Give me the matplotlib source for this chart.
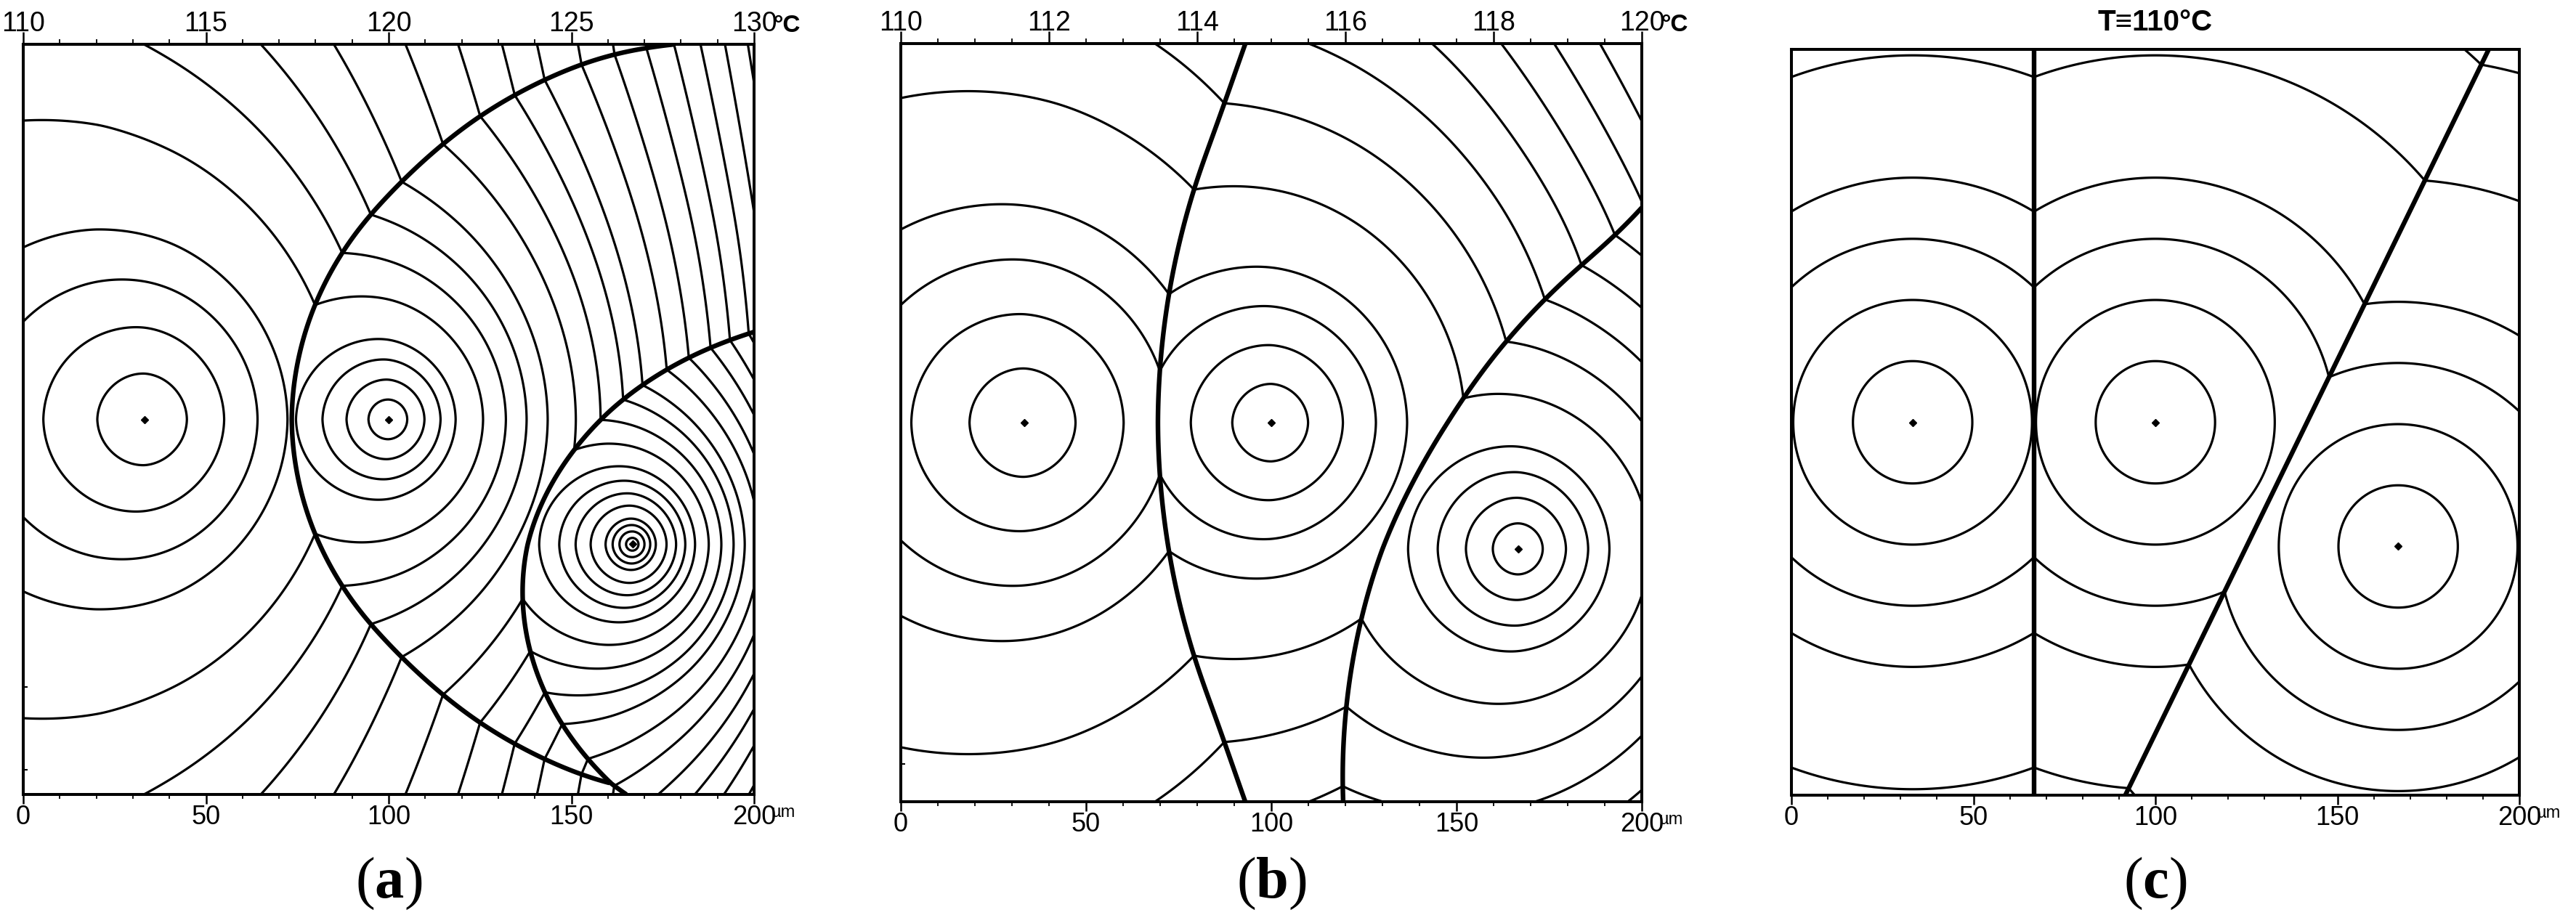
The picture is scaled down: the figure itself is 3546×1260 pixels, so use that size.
import numpy as np
import matplotlib
matplotlib.use("Agg")
import matplotlib.pyplot as plt
from matplotlib.ticker import MultipleLocator, FixedLocator

# ---------------- data ----------------
panel_letters = ["a", "b", "c"]
temp_left = [110.0, 110.0, 110.0]      # temperature at x = 0 µm
temp_right = [130.0, 120.0, 110.0]     # temperature at x = 200 µm
temp_major = [[110, 115, 120, 125, 130], [110, 112, 114, 116, 118, 120], []]
temp_minor_step = [1.0, 0.5, None]
nuclei_x = [33.3, 100.0, 166.7]        # µm
nuclei_y = [100.0, 100.0, 66.7]        # µm
# growth rate of spherulite radius (µm per time unit) vs temperature
growth_T = [110, 112, 114, 116, 118, 120, 122, 124, 126, 128, 130]
growth_G = [16.4, 13.91, 11.42, 9.14, 7.07, 5.29, 3.92, 2.74, 1.94, 1.33, 0.86]
# isochrone times (time units) shown in panels (b) and (c)
iso_levels = [1, 2, 3, 4, 6, 8, 10, 12, 14, 16, 18, 20, 22, 24, 26, 28, 30]
# panel (a): first isochrones, then later ones located by where they cross the top edge (µm)
iso_levels_a_early = [1, 2, 3, 4, 6]
iso_top_cross_a = [33.0, 65.0, 85.0, 104.6, 119.0, 131.0, 140.6, 151.8, 161.4, 170.4]
x_major = [0, 50, 100, 150, 200]
x_minor_step = 10
left_marks = [[28.6, 6.5], [10.0], []]
title_c = "T\u2261110\u00b0C"

# ---------------- computation of isochrones ----------------
L = 200.0
h = 0.5
n = int(round(L / h)) + 1
xs = np.linspace(0.0, L, n)
XX, YY = np.meshgrid(xs, xs)


def growth_at(T):
    return np.exp(np.interp(T, growth_T, np.log(growth_G)))


def godunov(a, b, fc):
    with np.errstate(invalid="ignore"):
        m = np.minimum(a, b)
        diff = np.abs(a - b)
        disc = np.maximum(2.0 * fc * fc - diff * diff, 0.0)
        t2 = 0.5 * (a + b + np.sqrt(disc))
        res = np.where(diff >= fc, m + fc, t2)
        res = np.where(np.isinf(m), np.inf, res)
    return res


def arrival_times(speed_x_list, src_list):
    F = len(src_list)
    slow = np.array([1.0 / s for s in speed_x_list])          # (F, n)
    S = np.concatenate([np.zeros((F, 1)),
                        np.cumsum(0.5 * (slow[:, 1:] + slow[:, :-1]) * h, axis=1)], axis=1)
    Tp = np.full((F, n + 2, n + 2), np.inf)
    for f, (sx, sy) in enumerate(src_list):
        d = np.hypot(XX - sx, YY - sy)
        Ss = np.interp(sx, xs, S[f])
        dx = XX - sx
        safe = np.where(np.abs(dx) > 1e-6, dx, 1.0)
        avg = np.where(np.abs(dx) > 1e-6, (S[f][None, :] - Ss) / safe,
                       np.interp(sx, xs, slow[f]))
        init = np.where(d <= 4.0, d * avg, np.inf)
        Tp[f, 1:-1, 1:-1] = init
    cost = h * slow                                              # (F, n)
    fwd = list(range(1, n + 1))
    bwd = list(range(n, 0, -1))
    for it in range(40):
        old = Tp.copy()
        for i in fwd + bwd:
            a = np.minimum(Tp[:, 1:-1, i - 1], Tp[:, 1:-1, i + 1])
            col = Tp[:, :, i]
            b = np.minimum(col[:, :-2], col[:, 2:])
            Tp[:, 1:-1, i] = np.minimum(col[:, 1:-1], godunov(a, b, cost[:, i - 1][:, None]))
        for j in fwd + bwd:
            a = np.minimum(Tp[:, j - 1, 1:-1], Tp[:, j + 1, 1:-1])
            row = Tp[:, j, :]
            b = np.minimum(row[:, :-2], row[:, 2:])
            Tp[:, j, 1:-1] = np.minimum(row[:, 1:-1], godunov(a, b, cost))
        o = np.where(np.isfinite(old), old, 1e9)
        t = np.where(np.isfinite(Tp), Tp, 1e9)
        if np.max(np.abs(o - t)) < 1e-7:
            break
    return Tp[:, 1:-1, 1:-1]


sources = list(zip(nuclei_x, nuclei_y))
fields = []
grad_speeds, grad_src, grad_idx = [], [], []
for k in range(3):
    Tx = temp_left[k] + (temp_right[k] - temp_left[k]) * xs / L
    sp = growth_at(Tx)
    if np.ptp(sp) == 0:
        fields.append(np.array([np.hypot(XX - sx, YY - sy) / sp[0] for sx, sy in sources]))
    else:
        fields.append(None)
        for s in sources:
            grad_speeds.append(sp)
            grad_src.append(s)
            grad_idx.append(k)
res = arrival_times(grad_speeds, grad_src)
for k in range(3):
    if fields[k] is None:
        fields[k] = np.array([res[m] for m in range(len(grad_idx)) if grad_idx[m] == k])


def levels_for(k, Tmin):
    if k != 0:
        return [v for v in iso_levels if v <= Tmin.max()]
    lv = list(iso_levels_a_early)
    for x in iso_top_cross_a:
        v = float(np.interp(x, xs, Tmin[-1, :]))
        if v > lv[-1] + 0.3:
            lv.append(v)
    step = lv[-1] - lv[-2]
    while lv[-1] + step <= Tmin.max():
        lv.append(lv[-1] + step)
        step *= 1.08
    return lv


# ---------------- figure ----------------
W, H = 3546, 1260
fig = plt.figure(figsize=(W / 100, H / 100), dpi=100)
plt.rcParams["mathtext.fontset"] = "custom"
plt.rcParams["mathtext.rm"] = "Liberation Serif"
plt.rcParams["mathtext.bf"] = "Liberation Serif:bold"
narrow = ["Liberation Sans Narrow", "Liberation Sans", "DejaVu Sans"]

boxes_px = [(32, 61, 1038, 1094), (1240, 60, 2260, 1104), (2466, 68, 3468, 1095)]

for k in range(3):
    l, t, r, b = boxes_px[k]
    ax = fig.add_axes([l / W, (H - b) / H, (r - l) / W, (b - t) / H])
    ax.set_xlim(0, L)
    ax.set_ylim(0, L)
    F = fields[k]
    Tmin = F.min(axis=0)
    levels = levels_for(k, Tmin)
    ax.contour(xs, xs, Tmin, levels=levels, colors="black", linewidths=2.3)
    # grain boundaries
    for i in range(3):
        for j in range(i + 1, 3):
            D = F[i] - F[j]
            others = [m for m in range(3) if m not in (i, j)]
            mask = np.zeros_like(D, dtype=bool)
            for m in others:
                mask |= F[m] < np.minimum(F[i], F[j]) - 0.02
            Dm = np.ma.masked_array(D, mask=mask)
            if Dm.min() < 0 < Dm.max():
                ax.contour(xs, xs, Dm, levels=[0.0], colors="black", linewidths=4.6)
    ax.plot(nuclei_x, nuclei_y, "D", color="black", ms=5, zorder=5)

    for sp in ax.spines.values():
        sp.set_linewidth(2.9)
    ax.xaxis.set_major_locator(FixedLocator(x_major))
    ax.xaxis.set_minor_locator(MultipleLocator(x_minor_step))
    ax.tick_params(axis="x", which="major", direction="out", length=9, width=1.8,
                   pad=1, labelsize=26, top=False)
    ax.tick_params(axis="x", which="minor", direction="out", length=4.5, width=1.3, top=False)
    ax.set_xticklabels([str(v) for v in x_major], fontfamily=narrow)
    ax.set_yticks(left_marks[k])
    ax.set_yticklabels([])
    ax.tick_params(axis="y", which="major", direction="in", length=4, width=1.5, right=False)

    ax.annotate("\u00b5m", xy=(1.0, 0.0), xycoords="axes fraction", xytext=(17, -10),
                textcoords="offset points", ha="left", va="top", fontsize=17,
                fontfamily=narrow)

    if temp_right[k] != temp_left[k]:
        T0, T1 = temp_left[k], temp_right[k]
        sec = ax.secondary_xaxis("top", functions=(lambda x, T0=T0, T1=T1: T0 + (T1 - T0) * x / L,
                                                   lambda T, T0=T0, T1=T1: (T - T0) * L / (T1 - T0)))
        sec.xaxis.set_major_locator(FixedLocator(temp_major[k]))
        sec.xaxis.set_minor_locator(MultipleLocator(temp_minor_step[k]))
        sec.set_xticklabels([str(v) for v in temp_major[k]], fontfamily=narrow)
        sec.tick_params(which="major", direction="out", length=12, width=1.8, pad=-5, labelsize=27)
        sec.tick_params(which="minor", direction="out", length=5, width=1.3)
        sec.spines["top"].set_linewidth(2.9)
        ax.annotate("\u00b0C", xy=(1.0, 1.0), xycoords="axes fraction", xytext=(19, 7),
                    textcoords="offset points", ha="left", va="bottom", fontsize=24,
                    fontweight="bold", fontfamily=narrow)
    else:
        ax.set_title(title_c, fontsize=29, fontweight="bold", fontfamily=narrow, pad=19)

    cx = (l + r) / 2 / W
    fig.text(cx, 1 - 1216 / H, r"$\mathrm{(}\mathbf{%s}\mathrm{)}$" % panel_letters[k],
             ha="center", va="center", fontsize=58)

fig.savefig("out.png", dpi=100, facecolor="white")
